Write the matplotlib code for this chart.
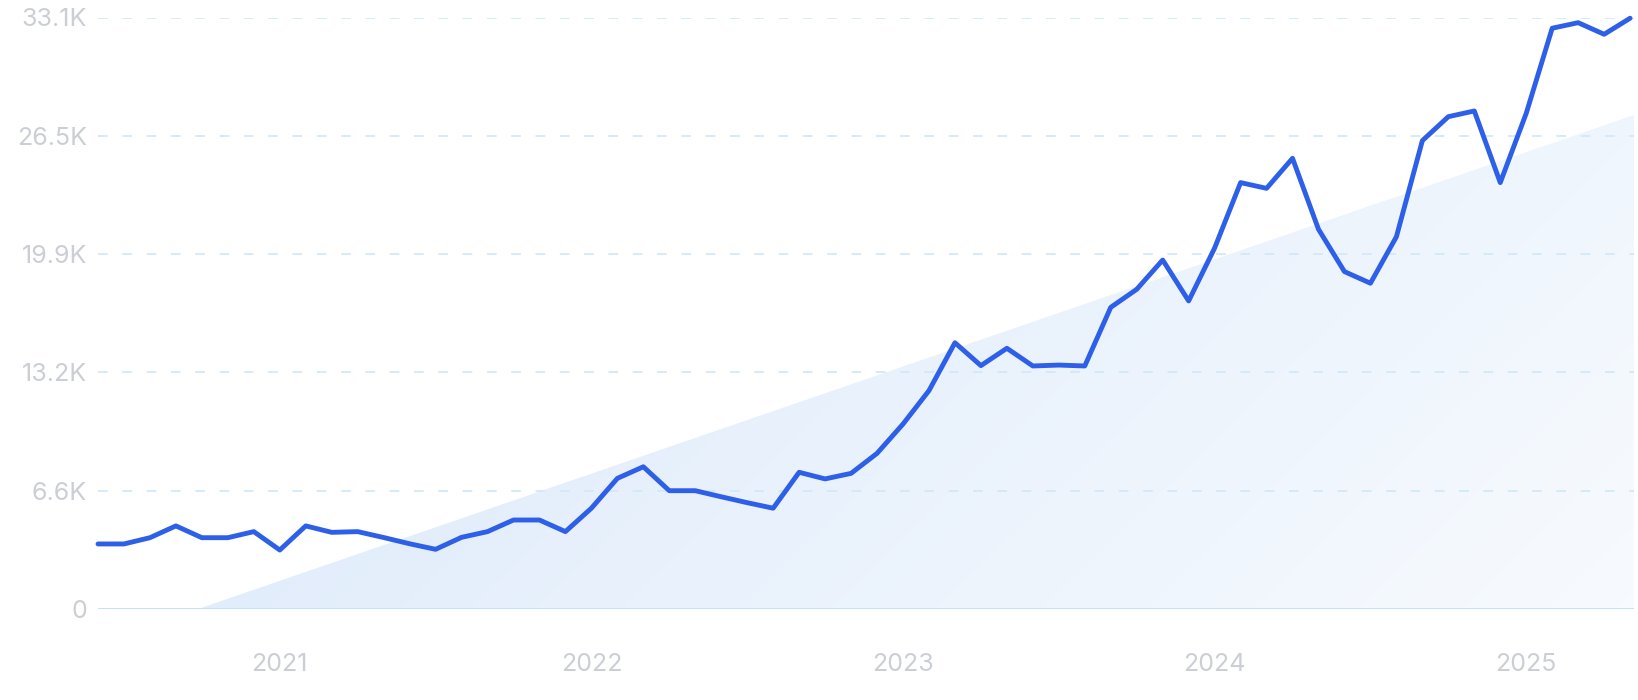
import numpy as np
import matplotlib
matplotlib.use("Agg")
import matplotlib.pyplot as plt
from matplotlib.patches import Polygon
from matplotlib.colors import to_rgb

plt.rcParams['font.family'] = ['Inter', 'DejaVu Sans']
plt.rcParams['lines.scale_dashes'] = False

# valores mensuales, jun 2020 -> may 2025
volumen = [3640, 3640, 3990, 4650, 3990, 3990, 4330, 3300, 4650, 4290,
           4330, 4000, 3650, 3340, 4010, 4330, 4980, 4980, 4330, 5640,
           7310, 7960, 6620, 6620, 6280, 5950, 5640, 7650, 7280, 7590,
           8710, 10350, 12220, 14900, 13620, 14590, 13600, 13650, 13600, 16880,
           17890, 19530, 17240, 20200, 23860, 23540, 25220, 21250, 18880, 18230,
           20830, 26210, 27550, 27870, 23860, 27740, 32500, 32810, 32160, 33060]
meses = np.arange(len(volumen))

# linea de tendencia (inicio en 0 y final)
tendencia_x = [3.85, 59.15]
tendencia_y = [0, 27640]

year_pos = [7, 19, 31, 43, 55]
year_labels = ["2021", "2022", "2023", "2024", "2025"]
y_ticks = [0, 6620, 13240, 19860, 26480, 33100]
y_labels = ["0", "6.6K", "13.2K", "19.9K", "26.5K", "33.1K"]

color_linea = "#2d5fe8"
color_texto = "#cbced5"
color_grid = "#d2e9f8"

fig = plt.figure(figsize=(16.38, 7.0), dpi=100)
ax = fig.add_axes([98 / 1638, 91 / 700, (1634 - 98) / 1638, (609 - 17.5) / 700])

ax.set_xlim(0, 59.15)
ax.set_ylim(0, 33100)

# relleno de la tendencia con degradado
x0, x1 = tendencia_x
ymax = tendencia_y[1]
tri = Polygon([(x0, 0), (x1, ymax), (x1, 0)], closed=True,
              facecolor='none', edgecolor='none')
ax.add_patch(tri)
nx, ny = 300, 150
gx, gy = np.meshgrid(np.linspace(0, 1, nx), np.linspace(1, 0, ny))
t = np.clip(gx * 0.85 - gy * 0.3, 0, 1)[..., None]
c0 = np.array(to_rgb("#e2edfb"))
c1 = np.array(to_rgb("#fbfdff"))
img = c0 * (1 - t) + c1 * t
im = ax.imshow(img, extent=[x0, x1, 0, ymax], aspect='auto',
               interpolation='bilinear', zorder=1)
im.set_clip_path(tri)

# rejilla
for yt in y_ticks[1:]:
    ax.axhline(yt, color=color_grid, lw=1.3, dashes=(7, 10.5), zorder=2)
ax.axhline(0, color="#c3e1fa", lw=1.4, zorder=2)

ax.plot(meses, volumen, color=color_linea, lw=3.5, solid_joinstyle='round',
        solid_capstyle='round', zorder=3, clip_on=False)

ax.set_xticks(year_pos)
ax.set_xticklabels(year_labels)
ax.set_yticks(y_ticks)
ax.set_yticklabels(y_labels)
ax.tick_params(axis='both', length=0, colors=color_texto, labelsize=18)
ax.tick_params(axis='x', pad=32)
ax.tick_params(axis='y', pad=8)
for s in ax.spines.values():
    s.set_visible(False)

plt.savefig("out.png", dpi=100)
plt.close()
